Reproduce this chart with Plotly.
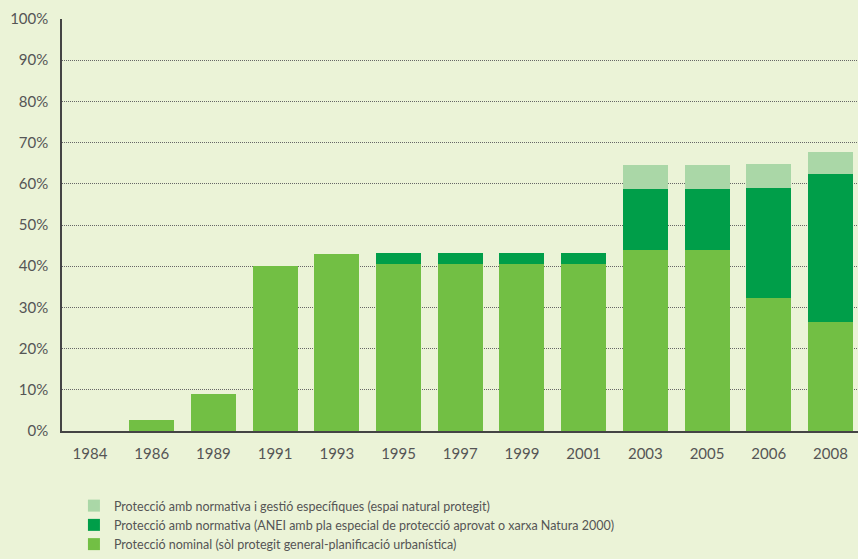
import plotly.graph_objects as go

years = ["1984", "1986", "1989", "1991", "1993", "1995", "1997", "1999", "2001", "2003", "2005", "2006", "2008"]
nominal = [0, 2.7, 9.0, 40.0, 42.9, 40.5, 40.5, 40.5, 40.5, 44.0, 44.0, 32.2, 26.5]
normativa = [0, 0, 0, 0, 0, 2.7, 2.7, 2.7, 2.7, 14.8, 14.8, 26.8, 35.9]
especifica = [0, 0, 0, 0, 0, 0, 0, 0, 0, 5.8, 5.8, 5.8, 5.2]

names = [
    "Protecció nominal (sòl protegit general-planificació urbanística)",
    "Protecció amb normativa (ANEI amb pla especial de protecció aprovat o xarxa Natura 2000)",
    "Protecció amb normativa i gestió específiques (espai natural protegit)",
]
colors = ["#72BF44", "#009E49", "#AAD7A7"]

BG = "#EBF3D7"
FONT = "Lato"
TXT = "#555555"

fig = go.Figure()
for vals, name, col in zip([nominal, normativa, especifica], names, colors):
    fig.add_trace(go.Bar(x=years, y=vals, name=name, marker_color=col,
                         marker_line_width=0, width=0.73, hoverinfo="skip"))

fig.update_layout(
    barmode="stack",
    width=858, height=559,
    margin=dict(l=62, r=0, t=19, b=128),
    paper_bgcolor=BG, plot_bgcolor=BG,
    font=dict(family=FONT, size=15, color=TXT),
    showlegend=True,
    legend=dict(traceorder="reversed", x=0.015, xanchor="left",
                yref="container", y=0, yanchor="bottom",
                bgcolor="rgba(0,0,0,0)",
                font=dict(family=FONT, size=12.5, color=TXT),
                itemclick=False, tracegroupgap=0),
    xaxis=dict(type="category", range=[-0.454, 12.446], showgrid=False,
               showline=True, linecolor="#444444", linewidth=1.5,
               ticks="", ticklabelstandoff=8, tickfont=dict(family=FONT, size=15, color=TXT), fixedrange=True),
    yaxis=dict(range=[0, 100], tickvals=[0, 10, 20, 30, 40, 50, 60, 70, 80, 90, 100],
               ticktext=[f"{v}%" for v in range(0, 101, 10)],
               showgrid=True, gridcolor="#666666", gridwidth=1, griddash="1px,1px",
               showline=True, linecolor="#444444", linewidth=1.5,
               ticks="", ticklabelstandoff=9, tickfont=dict(family=FONT, size=15, color=TXT),
               zeroline=False, fixedrange=True),
)

fig.write_html("out.html", config={"displayModeBar": False},
               post_script="document.body.style.margin='0';document.body.style.overflow='hidden';")
